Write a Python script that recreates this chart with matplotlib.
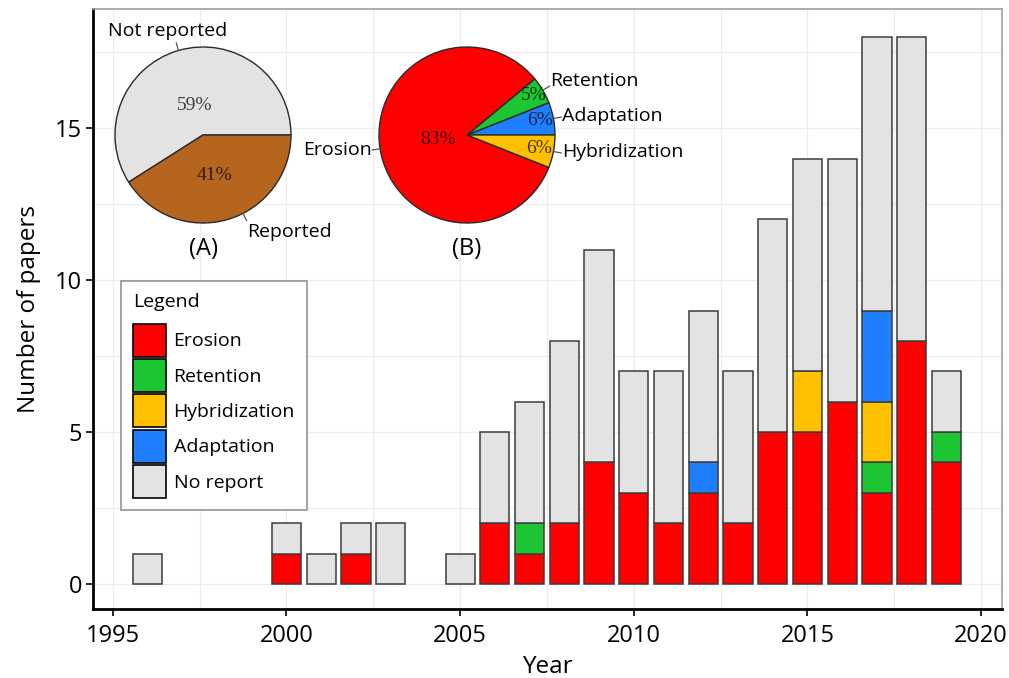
import matplotlib
matplotlib.use("Agg")
import matplotlib.pyplot as plt
import numpy as np
from matplotlib.patches import Patch
from matplotlib.ticker import MultipleLocator

# -----------------------------------------------------------------------------
# Data
# -----------------------------------------------------------------------------
years = [1996, 2000, 2001, 2002, 2003, 2005, 2006, 2007, 2008, 2009,
         2010, 2011, 2012, 2013, 2014, 2015, 2016, 2017, 2018, 2019]
erosion =       [0, 1, 0, 1, 0, 0, 2, 1, 2, 4, 3, 2, 3, 2, 5, 5, 6, 3, 8, 4]
retention =     [0, 0, 0, 0, 0, 0, 0, 1, 0, 0, 0, 0, 0, 0, 0, 0, 0, 1, 0, 1]
hybridization = [0, 0, 0, 0, 0, 0, 0, 0, 0, 0, 0, 0, 0, 0, 0, 2, 0, 2, 0, 0]
adaptation =    [0, 0, 0, 0, 0, 0, 0, 0, 0, 0, 0, 0, 1, 0, 0, 0, 0, 3, 0, 0]
no_report =     [1, 1, 1, 1, 2, 1, 3, 4, 6, 7, 4, 5, 5, 5, 7, 7, 8, 9, 10, 2]

# pie (A): reporting of genetic outcome
pie_a_labels = ["Not reported", "Reported"]
pie_a_pct = [59, 41]
# pie (B): outcome type, counter-clockwise from 3 o'clock
pie_b_labels = ["Adaptation", "Retention", "Erosion", "Hybridization"]
pie_b_pct = [6, 5, 83, 6]

# -----------------------------------------------------------------------------
# Style
# -----------------------------------------------------------------------------
C_EROSION = "#ff0000"
C_RETENTION = "#1ec532"
C_HYBRID = "#ffc000"
C_ADAPT = "#1f7fff"
C_NOREPORT = "#e3e3e3"
C_REPORTED = "#b5651d"
EDGE = "#3c3c3c"
GRID = "#ececec"

plt.rcParams["font.family"] = ["Open Sans", "DejaVu Sans"]

W, H = 1009, 678
fig = plt.figure(figsize=(W / 100, H / 100), dpi=100)
ax = fig.add_axes([93 / W, 69 / H, 909 / W, 600 / H])

series = [
    ("Erosion", erosion, C_EROSION),
    ("Retention", retention, C_RETENTION),
    ("Hybridization", hybridization, C_HYBRID),
    ("Adaptation", adaptation, C_ADAPT),
    ("No report", no_report, C_NOREPORT),
]

bottom = np.zeros(len(years))
for name, vals, col in series:
    vals = np.asarray(vals, dtype=float)
    mask = vals > 0
    ax.bar(np.asarray(years)[mask], vals[mask], bottom=bottom[mask], width=0.84,
           color=col, edgecolor=EDGE, linewidth=1.1, zorder=3)
    bottom += vals

ax.set_xlim(1994.43, 2020.6)
ax.set_ylim(-0.82, 18.92)
ax.xaxis.set_major_locator(MultipleLocator(5))
ax.xaxis.set_minor_locator(MultipleLocator(2.5))
ax.yaxis.set_major_locator(MultipleLocator(5))
ax.yaxis.set_minor_locator(MultipleLocator(2.5))
ax.grid(which="both", color=GRID, linewidth=0.9, zorder=0)
ax.set_axisbelow(True)
ax.tick_params(which="minor", length=0)
ax.tick_params(which="major", length=5, width=1.2, color="black", labelsize=17)
ax.tick_params(axis="x", pad=6)
ax.tick_params(axis="y", pad=3)
for s in ("left", "bottom"):
    ax.spines[s].set_linewidth(2)
    ax.spines[s].set_color("black")
for s in ("top", "right"):
    ax.spines[s].set_linewidth(1.2)
    ax.spines[s].set_color("#a0a0a0")
ax.set_xlabel("Year", fontsize=17.5, labelpad=5)
ax.set_ylabel("Number of papers", fontsize=17.5, labelpad=10)

# legend
handles = [Patch(facecolor=c, edgecolor="black", linewidth=1.2, label=n)
           for n, _, c in series]
leg = ax.legend(handles=handles, title="Legend", loc="upper left",
                bbox_to_anchor=(121 / W, 1 - 281 / H), bbox_transform=fig.transFigure,
                borderaxespad=0, fontsize=14, title_fontsize=14,
                handlelength=1.7, handleheight=2.24, labelspacing=0.12,
                handletextpad=0.38, borderpad=0.62, alignment="left",
                fancybox=False, framealpha=1, edgecolor="#8a8a8a")
leg.get_frame().set_linewidth(1.1)
leg._legend_box.sep = 9
leg.set_zorder(5)


# -----------------------------------------------------------------------------
# Inset pies
# -----------------------------------------------------------------------------
R_PX = 88


def pie_axes(cx, cy):
    return fig.add_axes([(cx - R_PX) / W, (H - cy - R_PX) / H, 2 * R_PX / W, 2 * R_PX / H])


def draw_pie(pax, pct, colors, labels, pct_r, label_ang, label_side, tag):
    wedges, _ = pax.pie(pct, colors=colors, startangle=0, counterclock=True,
                        wedgeprops=dict(edgecolor="#2a2a2a", linewidth=1.0))
    pax.set_xlim(-1, 1)
    pax.set_ylim(-1, 1)
    pax.set_aspect("auto")
    for w, p, lab, r, ang, side in zip(wedges, pct, labels, pct_r, label_ang, label_side):
        mid = np.deg2rad((w.theta1 + w.theta2) / 2)
        pax.text(r * np.cos(mid), r * np.sin(mid), f"{p}%", ha="center", va="center",
                 fontsize=14, family="Liberation Serif", color="black", alpha=0.72)
        # leader line, nudged away from the slice midpoint where the labels would clash
        a = mid if ang is None else np.deg2rad(ang)
        c, s = np.cos(a), np.sin(a)
        x0, y0 = 1.0 * c, 1.0 * s
        x1, y1 = 1.09 * c, 1.09 * s
        pax.plot([x0, x1], [y0, y1], color="#555555", lw=0.9, clip_on=False)
        if side == "top":
            pax.text(x1 - 0.1, y1 + 0.03, lab, ha="center", va="bottom", fontsize=14)
        elif side == "upright":
            pax.text(x1 + 0.01, y1 + 0.06, lab, ha="left", va="center", fontsize=14)
        elif side == "right":
            pax.text(x1 + 0.01, y1 + 0.01, lab, ha="left", va="center", fontsize=14)
        elif side == "below":
            pax.text(x1 + 0.01, y1 - 0.03, lab, ha="left", va="top", fontsize=14)
        else:
            pax.text(x1 - 0.01, y1, lab, ha="right", va="center", fontsize=14)
    pax.text(0, -1.29, tag, ha="center", va="center", fontsize=17)


pa = pie_axes(203, 135)
draw_pie(pa, pie_a_pct, [C_NOREPORT, C_REPORTED], pie_a_labels,
         [0.35, 0.48], [None, 297], ["top", "below"], "(A)")

pb = pie_axes(467, 135)
b_colors = {"Erosion": C_EROSION, "Retention": C_RETENTION,
            "Hybridization": C_HYBRID, "Adaptation": C_ADAPT}
draw_pie(pb, pie_b_pct, [b_colors[l] for l in pie_b_labels], pie_b_labels,
         [0.85, 0.88, 0.33, 0.83], [None, None, None, None],
         ["right", "upright", "left", "right"], "(B)")

fig.savefig("out.png", dpi=100)
